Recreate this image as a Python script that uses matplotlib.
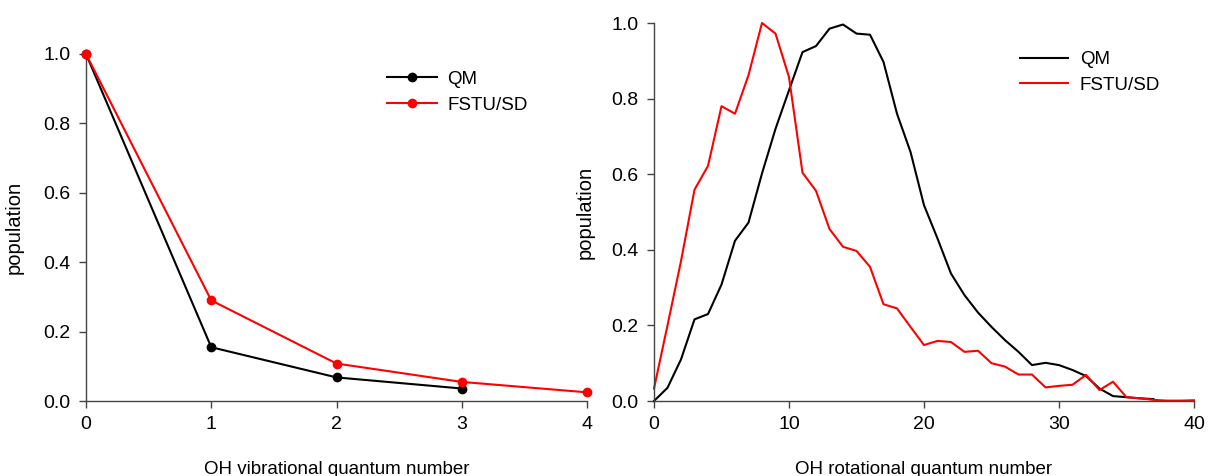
import matplotlib
matplotlib.use("Agg")
import matplotlib.pyplot as plt

# vibrational distribution
vib_qm_v = [0, 1, 2, 3]
vib_qm = [1.0, 0.155, 0.068, 0.036]
vib_fs_v = [0, 1, 2, 3, 4]
vib_fs = [1.0, 0.29, 0.108, 0.055, 0.025]

# rotational distribution
rot_qm_j = list(range(0, 38))
rot_qm = [0.0, 0.035, 0.11, 0.216, 0.23, 0.308, 0.424, 0.472, 0.602, 0.72,
          0.822, 0.923, 0.939, 0.985, 0.996, 0.972, 0.969, 0.897, 0.76, 0.659,
          0.518, 0.43, 0.337, 0.28, 0.234, 0.196, 0.161, 0.13, 0.095, 0.101,
          0.095, 0.082, 0.066, 0.033, 0.013, 0.01, 0.007, 0.005]
rot_fs_j = list(range(0, 41))
rot_fs = [0.033, 0.2, 0.37, 0.559, 0.622, 0.78, 0.76, 0.862, 1.0, 0.972,
          0.857, 0.604, 0.556, 0.455, 0.408, 0.397, 0.355, 0.256, 0.245, 0.196,
          0.148, 0.159, 0.156, 0.13, 0.133, 0.10, 0.091, 0.07, 0.07, 0.036,
          0.04, 0.043, 0.069, 0.029, 0.051, 0.01, 0.007, 0.003, 0.001, 0.001,
          0.002]

plt.rcParams.update({
    "font.family": ["Liberation Sans", "DejaVu Sans"],
    "font.size": 13.5,
})

SPINE = "#444444"
W, H = 1209, 476
fig = plt.figure(figsize=(W / 100, H / 100), dpi=100)
fig.patch.set_facecolor("white")


def frac(x0, x1, ytop, ybot):
    return [x0 / W, 1 - ybot / H, (x1 - x0) / W, (ybot - ytop) / H]


def style(ax, ylabelpad):
    for s in ("top", "right"):
        ax.spines[s].set_visible(False)
    for s in ("left", "bottom"):
        ax.spines[s].set_color(SPINE)
        ax.spines[s].set_linewidth(1.0)
    ax.tick_params(direction="out", length=5, width=1.0, color=SPINE,
                   labelsize=14, pad=6)
    ax.set_ylim(0, 1.0)
    ax.set_yticks([0, 0.2, 0.4, 0.6, 0.8, 1.0])
    ax.set_yticklabels(["0.0", "0.2", "0.4", "0.6", "0.8", "1.0"])
    ax.set_ylabel("population", fontsize=14.5, labelpad=ylabelpad)


# left panel
ax1 = fig.add_axes(frac(86, 587, 54, 401))
ax1.plot(vib_qm_v, vib_qm, color="black", lw=1.5, marker="o", ms=6,
         label="QM", clip_on=False, zorder=3)
ax1.plot(vib_fs_v, vib_fs, color="red", lw=1.5, marker="o", ms=6,
         label="FSTU/SD", clip_on=False, zorder=4)
style(ax1, 14)
ax1.set_xlim(0, 4)
ax1.set_xticks([0, 1, 2, 3, 4])
ax1.set_xlabel("OH vibrational quantum number", fontsize=13.5, labelpad=20)
ax1.legend(loc="upper left", bbox_to_anchor=(0.586, 0.973), frameon=False,
           fontsize=13.5, handlelength=2.65, handletextpad=0.55,
           borderaxespad=0, labelspacing=0.45)

# right panel
ax2 = fig.add_axes(frac(654, 1194, 23, 401))
ax2.plot(rot_qm_j, rot_qm, color="black", lw=1.5, label="QM",
         clip_on=False)
ax2.plot(rot_fs_j, rot_fs, color="red", lw=1.5, label="FSTU/SD",
         clip_on=False)
style(ax2, 12)
ax2.set_xlim(0, 40)
ax2.set_xticks([0, 10, 20, 30, 40])
ax2.set_xlabel("OH rotational quantum number", fontsize=13.5, labelpad=20)
ax2.legend(loc="upper left", bbox_to_anchor=(0.664, 0.945), frameon=False,
           fontsize=13.5, handlelength=2.55, handletextpad=0.64,
           borderaxespad=0, labelspacing=0.45)

fig.savefig("out.png", dpi=100, facecolor="white")
